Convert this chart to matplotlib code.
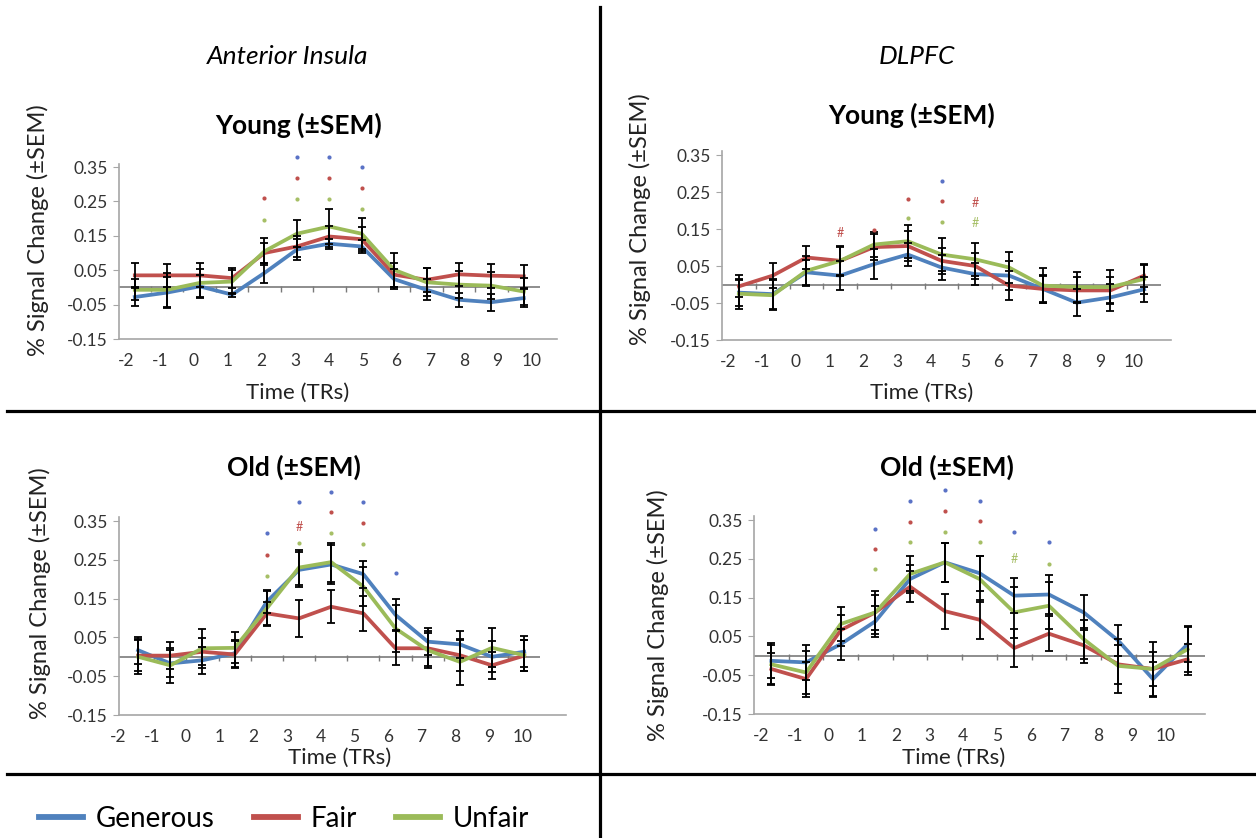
import numpy as np
import matplotlib
matplotlib.use('Agg')
import matplotlib.pyplot as plt
from matplotlib.lines import Line2D

plt.rcParams['font.family'] = ['Lato', 'DejaVu Sans']

# 时间点 (TR)
trs = [-2, -1, 0, 1, 2, 3, 4, 5, 6, 7, 8, 9, 10]
conditions = ['Generous', 'Fair', 'Unfair']
line_colors = {'Generous': '#4f81bd', 'Fair': '#c0504d', 'Unfair': '#9bbb59'}
star_colors = {'Generous': '#5a72c6', 'Fair': '#c0504d', 'Unfair': '#a6bf66'}

# Anterior Insula - Young
ai_young_generous = [-0.028, -0.015, 0.003, -0.021, 0.042, 0.110, 0.127, 0.119, 0.024, -0.007, -0.036, -0.043, -0.031]
ai_young_fair = [0.035, 0.035, 0.035, 0.027, 0.100, 0.119, 0.148, 0.140, 0.037, 0.022, 0.038, 0.034, 0.032]
ai_young_unfair = [-0.007, -0.007, 0.013, 0.017, 0.105, 0.156, 0.177, 0.156, 0.051, 0.015, 0.008, 0.005, -0.012]
ai_young_generous_sem = [0.025, 0.045, 0.033, 0.006, 0.030, 0.030, 0.015, 0.020, 0.030, 0.030, 0.020, 0.025, 0.026]
ai_young_fair_sem = [0.035, 0.034, 0.035, 0.030, 0.030, 0.030, 0.030, 0.035, 0.035, 0.035, 0.033, 0.035, 0.034]
ai_young_unfair_sem = [0.030, 0.050, 0.040, 0.035, 0.040, 0.040, 0.050, 0.045, 0.050, 0.040, 0.040, 0.040, 0.040]

# DLPFC - Young
dl_young_generous = [-0.022, -0.026, 0.033, 0.024, 0.055, 0.081, 0.046, 0.028, 0.024, -0.012, -0.049, -0.035, -0.013]
dl_young_fair = [-0.005, 0.024, 0.073, 0.064, 0.101, 0.104, 0.064, 0.050, -0.003, -0.012, -0.016, -0.016, 0.024]
dl_young_unfair = [-0.025, -0.029, 0.037, 0.064, 0.108, 0.117, 0.081, 0.068, 0.046, -0.003, -0.007, -0.007, 0.015]
dl_young_generous_sem = [0.035, 0.040, 0.033, 0.040, 0.040, 0.030, 0.035, 0.030, 0.040, 0.038, 0.036, 0.037, 0.034]
dl_young_fair_sem = [0.030, 0.033, 0.030, 0.040, 0.035, 0.040, 0.035, 0.035, 0.040, 0.035, 0.035, 0.035, 0.030]
dl_young_unfair_sem = [0.040, 0.040, 0.040, 0.037, 0.035, 0.045, 0.045, 0.045, 0.042, 0.048, 0.040, 0.045, 0.040]

# Anterior Insula - Old
ai_old_generous = [0.017, -0.017, -0.009, 0.009, 0.142, 0.224, 0.238, 0.213, 0.108, 0.039, 0.032, 0.000, 0.013]
ai_old_fair = [0.003, 0.003, 0.013, 0.006, 0.112, 0.099, 0.129, 0.112, 0.022, 0.022, 0.004, -0.022, 0.003]
ai_old_unfair = [0.000, -0.022, 0.022, 0.023, 0.125, 0.230, 0.244, 0.181, 0.073, 0.017, -0.013, 0.023, 0.004]
ai_old_generous_sem = [0.035, 0.035, 0.035, 0.035, 0.030, 0.045, 0.050, 0.035, 0.040, 0.035, 0.035, 0.040, 0.040]
ai_old_fair_sem = [0.040, 0.035, 0.035, 0.035, 0.030, 0.048, 0.042, 0.045, 0.044, 0.045, 0.040, 0.035, 0.040]
ai_old_unfair_sem = [0.045, 0.045, 0.050, 0.040, 0.045, 0.045, 0.050, 0.050, 0.060, 0.045, 0.060, 0.050, 0.040]

# DLPFC - Old
dl_old_generous = [-0.013, -0.017, 0.030, 0.089, 0.198, 0.241, 0.213, 0.155, 0.158, 0.112, 0.039, -0.060, 0.030]
dl_old_fair = [-0.034, -0.060, 0.066, 0.112, 0.178, 0.115, 0.093, 0.020, 0.057, 0.027, -0.022, -0.034, -0.009]
dl_old_unfair = [-0.022, -0.043, 0.082, 0.112, 0.211, 0.241, 0.198, 0.112, 0.129, 0.043, -0.026, -0.034, 0.017]
dl_old_generous_sem = [0.045, 0.045, 0.040, 0.040, 0.035, 0.050, 0.045, 0.045, 0.050, 0.045, 0.040, 0.045, 0.045]
dl_old_fair_sem = [0.040, 0.045, 0.040, 0.045, 0.040, 0.045, 0.050, 0.050, 0.045, 0.045, 0.050, 0.045, 0.040]
dl_old_unfair_sem = [0.050, 0.055, 0.045, 0.055, 0.045, 0.050, 0.060, 0.065, 0.060, 0.050, 0.070, 0.070, 0.060]

# 显著性标记 (TR, 条件, 符号, 高度)
ai_young_sig = [(2, 'Fair', '*', 0.260), (2, 'Unfair', '*', 0.197),
                (3, 'Generous', '*', 0.378), (3, 'Fair', '*', 0.318), (3, 'Unfair', '*', 0.258),
                (4, 'Generous', '*', 0.378), (4, 'Fair', '*', 0.318), (4, 'Unfair', '*', 0.258),
                (5, 'Generous', '*', 0.349), (5, 'Fair', '*', 0.289), (5, 'Unfair', '*', 0.229)]
dl_young_sig = [(1, 'Fair', '#', 0.139), (2, 'Fair', '*', 0.148),
                (3, 'Fair', '*', 0.230), (3, 'Unfair', '*', 0.179),
                (4, 'Generous', '*', 0.280), (4, 'Fair', '*', 0.227), (4, 'Unfair', '*', 0.170),
                (5, 'Fair', '#', 0.220), (5, 'Unfair', '#', 0.165)]
ai_old_sig = [(2, 'Generous', '*', 0.319), (2, 'Fair', '*', 0.263), (2, 'Unfair', '*', 0.209),
              (3, 'Generous', '*', 0.400), (3, 'Fair', '#', 0.334), (3, 'Unfair', '*', 0.293),
              (4, 'Generous', '*', 0.425), (4, 'Fair', '*', 0.372), (4, 'Unfair', '*', 0.319),
              (5, 'Generous', '*', 0.400), (5, 'Fair', '*', 0.345), (5, 'Unfair', '*', 0.291),
              (6, 'Generous', '*', 0.216)]
dl_old_sig = [(1, 'Generous', '*', 0.326), (1, 'Fair', '*', 0.275), (1, 'Unfair', '*', 0.225),
              (2, 'Generous', '*', 0.399), (2, 'Fair', '*', 0.345), (2, 'Unfair', '*', 0.293),
              (3, 'Generous', '*', 0.427), (3, 'Fair', '*', 0.372), (3, 'Unfair', '*', 0.319),
              (4, 'Generous', '*', 0.399), (4, 'Fair', '*', 0.347), (4, 'Unfair', '*', 0.293),
              (5, 'Generous', '*', 0.319), (5, 'Unfair', '#', 0.250),
              (6, 'Generous', '*', 0.293), (6, 'Unfair', '*', 0.237)]

yticks = [-0.15, -0.05, 0.05, 0.15, 0.25, 0.35]

W, H = 1256, 838
fig = plt.figure(figsize=(W / 100, H / 100), dpi=100)


def fx(x):
    return x / W


def fy(y):
    return 1 - y / H


# 面板布局 (像素): 左, 底, 宽, 每单位高度
panels = [
    dict(name='ai_young', rect=(118.6, 339, 421.4, 344), series=(ai_young_generous, ai_young_fair, ai_young_unfair),
         sems=(ai_young_generous_sem, ai_young_fair_sem, ai_young_unfair_sem), sig=ai_young_sig,
         title='Young (±SEM)', title_xy=(299, 125), xlab_xy=(298, 393), ylab_xy=(38, 230),
         shift=-0.26, stretch=1.041, extend=17),
    dict(name='dl_young', rect=(722, 340, 439, 370), series=(dl_young_generous, dl_young_fair, dl_young_unfair),
         sems=(dl_young_generous_sem, dl_young_fair_sem, dl_young_unfair_sem), sig=dl_young_sig,
         title='Young (±SEM)', title_xy=(912, 115), xlab_xy=(922, 393), ylab_xy=(640, 219),
         shift=-0.31, stretch=1.0, extend=10),
    dict(name='ai_old', rect=(118.5, 715, 421.8, 388), series=(ai_old_generous, ai_old_fair, ai_old_unfair),
         sems=(ai_old_generous_sem, ai_old_fair_sem, ai_old_unfair_sem), sig=ai_old_sig,
         title='Old (±SEM)', title_xy=(294, 467), xlab_xy=(340, 758), ylab_xy=(40, 593),
         shift=-0.61, stretch=1.047, extend=26),
    dict(name='dl_old', rect=(754, 714, 451, 388), series=(dl_old_generous, dl_old_fair, dl_old_unfair),
         sems=(dl_old_generous_sem, dl_old_fair_sem, dl_old_unfair_sem), sig=dl_old_sig,
         title='Old (±SEM)', title_xy=(947, 467), xlab_xy=(954, 758), ylab_xy=(658, 615),
         shift=-0.30, stretch=0.972, extend=0),
]

ylo, yhi = -0.15, 0.36
idx = np.arange(len(trs))

for p in panels:
    left, bottom, width, scale = p['rect']
    height = (yhi - ylo) * scale
    ax = fig.add_axes([fx(left), fy(bottom), width / W, height / H])
    ax.set_xlim(-0.5, len(trs) - 0.5)
    ax.set_ylim(ylo, yhi)

    # 零线和刻度
    ax.axhline(0, color='#7a7a7a', lw=1.2, zorder=1)
    ax.vlines(idx[:-1] + 0.5, -0.012, 0.004, color='#7a7a7a', lw=1, zorder=1)

    for cond, vals, sem in zip(conditions, p['series'], p['sems']):
        ax.plot(idx, vals, color=line_colors[cond], lw=2.7, zorder=3, solid_joinstyle='round')
    for cond, vals, sem in zip(conditions, p['series'], p['sems']):
        ax.errorbar(idx, vals, yerr=sem, fmt='none', ecolor='black', elinewidth=1.3,
                    capsize=3, capthick=1.3, zorder=4)

    for tr, cond, sym, yv in p['sig']:
        xi = trs.index(tr)
        if sym == '*':
            ax.plot(xi, yv, 'o', ms=3, color=star_colors[cond], mec='none', clip_on=False, zorder=5)
        else:
            ax.text(xi, yv, '#', color=star_colors[cond], fontsize=9, ha='center', va='center',
                    clip_on=False, zorder=5)

    for side in ['top', 'right', 'bottom']:
        ax.spines[side].set_visible(False)
    ax.spines['left'].set_color('#a6a6a6')
    ax.spines['left'].set_linewidth(1.2)
    ax.add_line(Line2D([0, 1 + p['extend'] / width], [0, 0], transform=ax.transAxes,
                       color='#a6a6a6', lw=1.2, clip_on=False))

    ax.set_yticks(yticks)
    ax.set_yticklabels([f'{v:.2f}' for v in yticks])
    ax.tick_params(axis='y', length=4, color='#a6a6a6', labelsize=12.5, labelcolor='#333333', pad=4)

    tick_pos = [p['shift'] + p['stretch'] * k for k in range(len(trs))]
    ax.set_xticks(tick_pos)
    ax.set_xticklabels([str(t) for t in trs])
    ax.tick_params(axis='x', length=0, labelsize=12.5, labelcolor='#333333', pad=10)

    fig.text(fx(p['title_xy'][0]), fy(p['title_xy'][1]), p['title'], fontsize=19, fontweight='bold',
             ha='center', va='center')
    fig.text(fx(p['xlab_xy'][0]), fy(p['xlab_xy'][1]), 'Time (TRs)', fontsize=16,
             ha='center', va='center', color='#222222')
    fig.text(fx(p['ylab_xy'][0]), fy(p['ylab_xy'][1]), '% Signal Change (±SEM)', fontsize=17,
             rotation=90, ha='center', va='center', color='#222222')

# 区域标题
fig.text(fx(288), fy(57), 'Anterior Insula', fontsize=19, fontstyle='italic', ha='center', va='center')
fig.text(fx(917), fy(57), 'DLPFC', fontsize=19, fontstyle='italic', ha='center', va='center')

# 分隔线
fig.add_artist(Line2D([fx(600), fx(600)], [fy(7), fy(838)], color='black', lw=2.3))
fig.add_artist(Line2D([fx(7), fx(1256)], [fy(411), fy(411)], color='black', lw=2.3))
fig.add_artist(Line2D([fx(7), fx(1256)], [fy(774), fy(774)], color='black', lw=2.3))

# 图例
handles = [Line2D([], [], color=line_colors[c], lw=4.2) for c in conditions]
fig.legend(handles, conditions, loc='center left', bbox_to_anchor=(fx(39), fy(819)),
           ncol=3, frameon=False, fontsize=20, handlelength=1.6, handletextpad=0.45,
           columnspacing=1.4, borderpad=0, borderaxespad=0)

fig.savefig('out.png', dpi=100, facecolor='white')
